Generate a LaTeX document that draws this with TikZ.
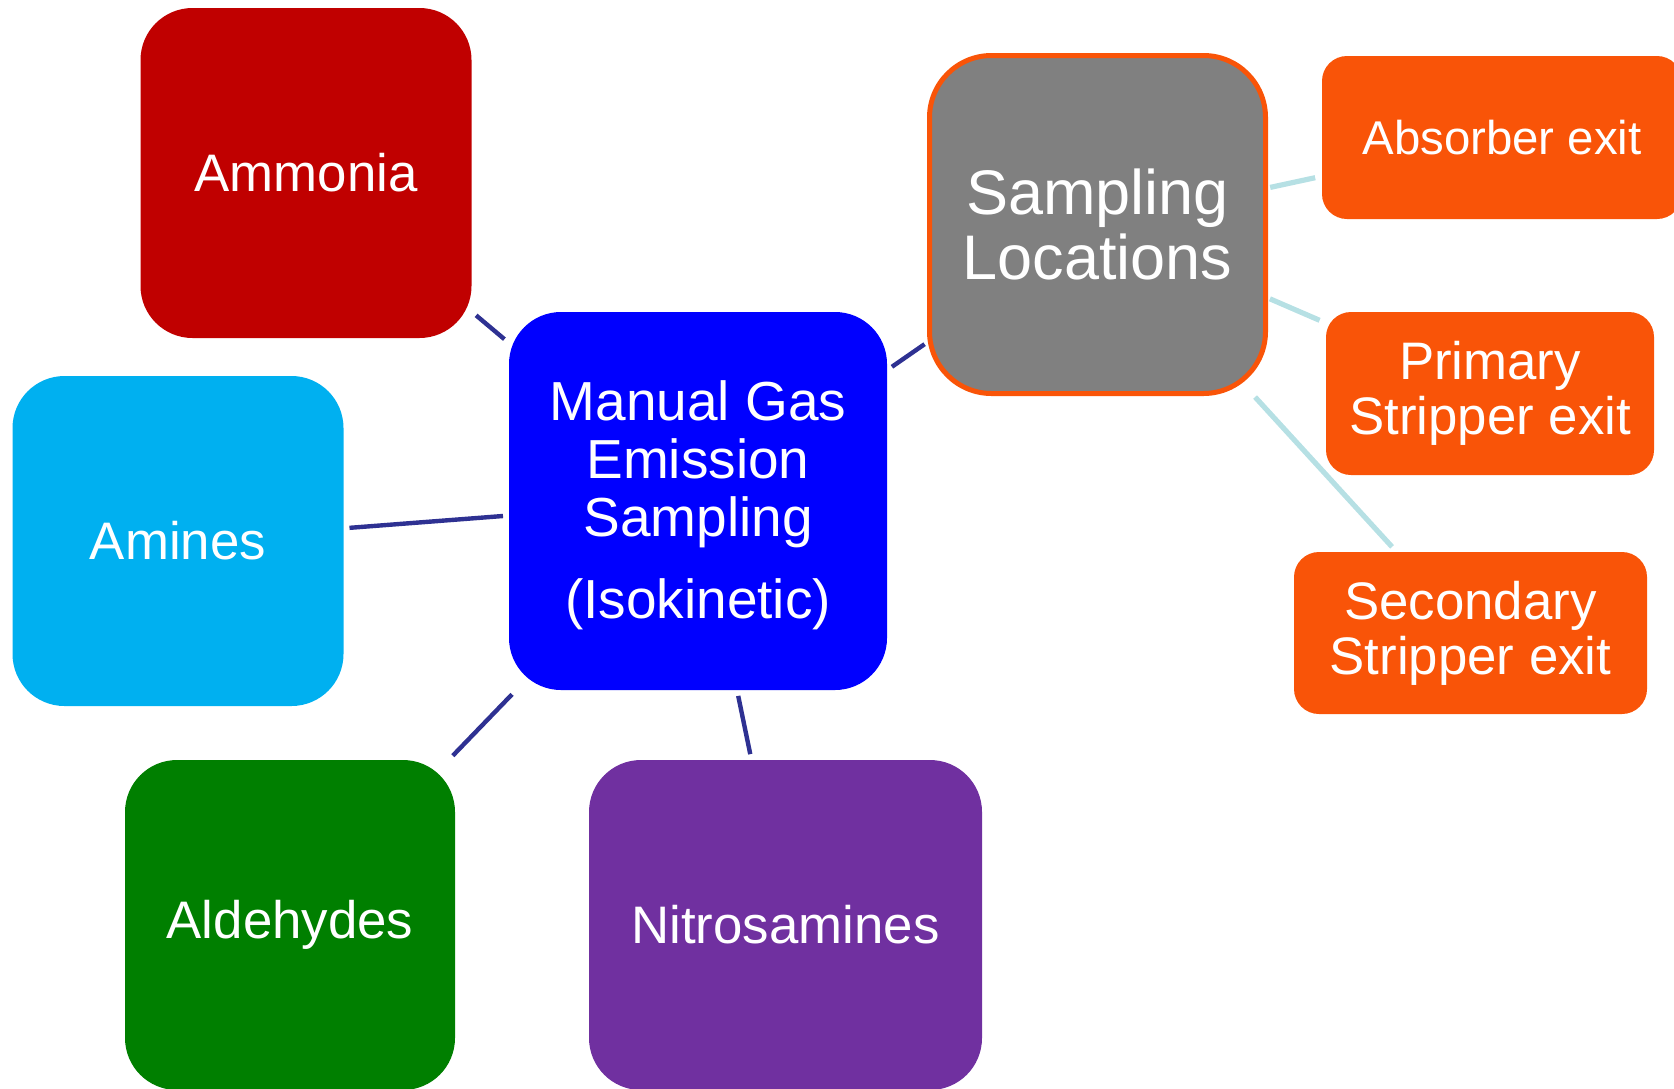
\documentclass[tikz,border=0pt]{standalone}
\usepackage{fontspec}
\setmainfont{Liberation Sans}
\definecolor{ammred}{HTML}{C00000}
\definecolor{amiblue}{HTML}{00B0F0}
\definecolor{aldgreen}{HTML}{007F00}
\definecolor{nitpurple}{HTML}{7030A0}
\definecolor{ctrblue}{HTML}{0000FF}
\definecolor{sampgray}{HTML}{808080}
\definecolor{locorange}{HTML}{F95408}
\definecolor{linknavy}{HTML}{2E3192}
\definecolor{linkcyan}{HTML}{B6E0E4}
\begin{document}
\begin{tikzpicture}[x=0.5pt,y=-0.5pt,
  box/.style={rounded corners=26pt, inner sep=0pt, outer sep=0pt, text=white, align=center},
  bigbox/.style={box, font=\fontsize{26.4pt}{27pt}\selectfont},
  locbox/.style={box, rounded corners=12.5pt, fill=locorange, font=\fontsize{26.4pt}{27.5pt}\selectfont},
  navylink/.style={draw=linknavy, line width=2.2pt, shorten <=3pt, shorten >=3pt},
  cyanlink/.style={draw=linkcyan, line width=2.6pt, shorten <=2.4pt, shorten >=3.5pt}]
\useasboundingbox (0,0) rectangle (1674,1088);
\clip (0,0) rectangle (1674,1088);
% main topic
\node[box, fill=ctrblue, minimum width=189pt, minimum height=189pt,
  font=\fontsize{27.5pt}{28.9pt}\selectfont] (ctr) at (698,501)
  {\rule{0pt}{24pt}Manual Gas\\Emission\\Sampling\\[12pt](Isokinetic)};
% categories
\node[bigbox, fill=ammred, minimum width=165.5pt, minimum height=165pt] (amm) at (306,173) {Ammonia};
\node[bigbox, fill=amiblue, minimum width=165.5pt, minimum height=165pt] (ami) at (178,541) {Amines};
\node[bigbox, fill=aldgreen, minimum width=165pt, minimum height=165pt] (ald) at (290,925) {Aldehydes};
\node[bigbox, fill=nitpurple, minimum width=196.5pt, minimum height=165pt] (nit) at (785.5,925) {Nitrosamines};
% sampling locations
\node[box, rounded corners=31pt, fill=sampgray, draw=locorange, line width=2.5pt,
  minimum width=168pt, minimum height=169pt, font=\fontsize{31.5pt}{32.5pt}\selectfont]
  (samp) at (1097.5,224.5) {Sampling\\Locations};
\node[locbox, minimum width=180pt, minimum height=81.5pt, font=\fontsize{23.7pt}{26pt}\selectfont]
  (abs) at (1502,137.5) {Absorber exit};
\node[locbox, minimum width=164pt, minimum height=81.5pt] (pri) at (1490,393.5) {Primary\\Stripper exit};
\node[locbox, minimum width=176.5pt, minimum height=81pt] (sec) at (1470.5,633) {Secondary\\Stripper exit};
% connectors
\draw[navylink] (amm) -- (ctr);
\draw[navylink] (ami) -- (ctr);
\draw[navylink] (ald) -- (ctr);
\draw[navylink] (nit) -- (ctr);
\draw[navylink] (ctr) -- (samp);
\draw[cyanlink] (samp) -- (abs);
\draw[cyanlink] (samp) -- (pri);
\draw[cyanlink] (samp) -- (sec);
\end{tikzpicture}
\end{document}
